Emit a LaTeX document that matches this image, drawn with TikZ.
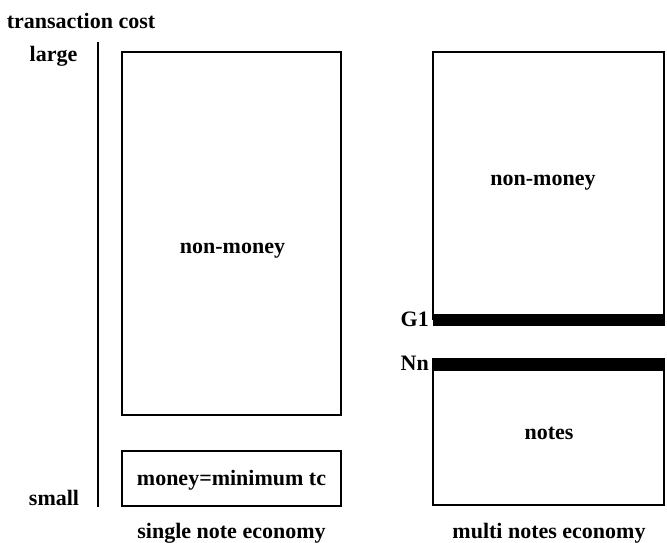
\documentclass[tikz,border=0pt]{standalone}
\usepackage{fontspec}
\setmainfont{Liberation Serif}
\begin{document}
\begin{tikzpicture}[x=1pt,y=-1pt,
  box/.style={draw=black,line width=1.6pt,minimum width=219pt,inner sep=0pt},
  rbox/.style={draw=black,line width=1.6pt,minimum width=231pt,inner sep=0pt},
  bar/.style={fill=black,draw=black,line width=0.5pt,minimum width=231pt,minimum height=11pt,inner sep=0pt},
  lbl/.style={font=\bfseries\fontsize{22}{24}\selectfont,inner sep=0pt},
  axis/.style={line width=1.6pt}]
\useasboundingbox (0,0) rectangle (667,543);
% left column
\node[box,minimum height=363pt] (bigbox) at (231.5,233.5) {};
\node[box,minimum height=55pt] (smallbox) at (231.5,478.5) {};
\node[lbl] (nm1) at (232.5,251) {non-money};
\node[lbl] (money) at (231.5,480) {money=minimum tc};
\node[lbl] (single) at (231.5,533) {single note economy};
% axis
\coordinate (axtop) at (98,42);
\coordinate (axbot) at (98,507);
\draw[axis] (axtop) -- (axbot);
\node[lbl] (tc) at (81,21) {transaction cost};
\node[lbl] (large) at (53.5,56) {large};
\node[lbl] (small) at (54,498) {small};
% right column
\node[rbox,minimum height=267.5pt] (rtop) at (548.5,185.75) {};
\node[bar] (g1bar) at (548.5,319.5) {};
\node[rbox,minimum height=146pt] (rbot) at (548.5,432) {};
\node[bar] (nnbar) at (548.5,364.5) {};
\node[lbl] (nm2) at (543,183) {non-money};
\node[lbl] (notes) at (549,433) {notes};
\node[lbl,anchor=east] (g1) at (429,319) {G1};
\node[lbl,anchor=east] (nn) at (429,363) {Nn};
\node[lbl] (multi) at (549,533) {multi notes economy};
\end{tikzpicture}
\end{document}
